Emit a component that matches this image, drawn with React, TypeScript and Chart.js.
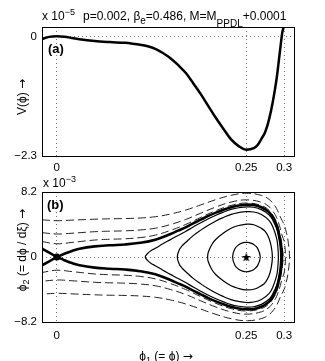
import React, { useEffect, useRef } from 'react';
import { Chart, registerables } from 'chart.js';

Chart.register(...registerables);

const FONT = "'Liberation Sans', Arial, Helvetica, sans-serif";

// ---------- axes ----------
const X_MIN = -0.0195;
const X_MAX = 0.313;
const phiTicks = [0, 0.25, 0.3];
const vTicks = [-2.3, 0]; // x 1e-5
const V_MIN = -2.3;
const V_MAX = 0.18;
const p2Ticks = [-8.2, 0, 8.2]; // x 1e-3
const P2_MIN = -8.2;
const P2_MAX = 8.2;

// ---------- (a) potential V(phi), units of 1e-5 ----------
const vPhi = [-0.0195, -0.01, 0, 0.01, 0.02, 0.03, 0.05, 0.07, 0.09, 0.1, 0.11, 0.12, 0.13, 0.14, 0.15, 0.16, 0.17, 0.18, 0.19, 0.2, 0.21, 0.22, 0.23, 0.24, 0.25, 0.26, 0.265, 0.27, 0.275, 0.28, 0.285, 0.29, 0.295, 0.2975, 0.3, 0.302];
const vVal = [-0.05, -0.01, 0, -0.008, -0.03, -0.055, -0.09, -0.11, -0.125, -0.14, -0.16, -0.19, -0.24, -0.32, -0.42, -0.55, -0.7, -0.9, -1.11, -1.34, -1.57, -1.78, -1.98, -2.11, -2.18, -2.15, -2.09, -1.97, -1.84, -1.6, -1.26, -0.82, -0.22, 0.07, 0.22, 0.46];

// ---------- (b) phase portrait, phi2 in units of 1e-3 (upper halves) ----------
// separatrix arm left of the saddle
const sepArmPhi = [-0.0195, -0.01, 0];
const sepArmP2 = [1.05, 0.56, 0];
// separatrix loop (saddle -> right turning point)
const sepPhi = [0, 0.01, 0.02, 0.03, 0.05, 0.07, 0.09, 0.11, 0.13, 0.15, 0.16, 0.17, 0.18, 0.19, 0.2, 0.21, 0.22, 0.23, 0.24, 0.25, 0.26, 0.27, 0.28, 0.285, 0.29, 0.295, 0.2965, 0.2972];
const sepP2 = [0, 0.4, 0.77, 1.05, 1.34, 1.48, 1.58, 1.79, 2.19, 2.9, 3.32, 3.74, 4.24, 4.71, 5.18, 5.6, 5.97, 6.29, 6.5, 6.6, 6.56, 6.28, 5.66, 5.02, 4.05, 2.1, 1.0, 0];
// closed orbits
const ringAPhi = [0.232, 0.235, 0.24, 0.245, 0.25, 0.255, 0.26, 0.265, 0.2685];
const ringAP2 = [0, 1.03, 1.54, 1.78, 1.86, 1.79, 1.57, 1.09, 0];
const ringBPhi = [0.199, 0.2, 0.205, 0.21, 0.22, 0.23, 0.24, 0.25, 0.26, 0.27, 0.275, 0.28, 0.283, 0.2845];
const ringBP2 = [0, 0.63, 1.64, 2.24, 3.03, 3.63, 3.97, 4.15, 4.07, 3.61, 3.22, 2.37, 1.3, 0];
const ringCPhi = [0.159, 0.162, 0.165, 0.17, 0.18, 0.19, 0.2, 0.21, 0.22, 0.23, 0.24, 0.25, 0.26, 0.27, 0.28, 0.285, 0.29, 0.2915, 0.2924];
const ringCP2 = [0, 0.97, 1.36, 1.83, 2.7, 3.39, 4.01, 4.55, 4.99, 5.38, 5.61, 5.74, 5.68, 5.36, 4.62, 3.81, 2.39, 1.46, 0];
const ringDPhi = [0.1167, 0.12, 0.125, 0.13, 0.14, 0.15, 0.16, 0.17, 0.18, 0.19, 0.2, 0.21, 0.22, 0.23, 0.24, 0.25, 0.26, 0.27, 0.28, 0.285, 0.29, 0.2925, 0.2945, 0.2953];
const ringDP2 = [0, 0.45, 0.84, 1.1, 1.67, 2.19, 2.72, 3.22, 3.79, 4.31, 4.82, 5.27, 5.66, 6.0, 6.21, 6.32, 6.28, 5.98, 5.33, 4.65, 3.58, 2.61, 1.41, 0];
// open (dashed) orbits
const open1Phi = [-0.0195, 0, 0.02, 0.05, 0.07, 0.09, 0.11, 0.13, 0.15, 0.17, 0.19, 0.21, 0.23, 0.25, 0.27, 0.28, 0.285, 0.29, 0.295, 0.2975, 0.2987];
const open1P2 = [1.95, 1.67, 1.84, 2.14, 2.24, 2.3, 2.45, 2.76, 3.35, 4.1, 5.0, 5.85, 6.51, 6.81, 6.5, 5.9, 5.29, 4.38, 2.68, 1.18, 0];
const open2Phi = [-0.0195, 0, 0.02, 0.05, 0.07, 0.09, 0.11, 0.13, 0.15, 0.17, 0.19, 0.21, 0.23, 0.25, 0.27, 0.28, 0.285, 0.29, 0.295, 0.2975, 0.3, 0.3017];
const open2P2 = [3.07, 2.9, 3.0, 3.19, 3.26, 3.3, 3.41, 3.63, 4.1, 4.73, 5.53, 6.31, 6.93, 7.21, 6.91, 6.36, 5.8, 4.98, 3.58, 2.65, 2.0, 0];
const open3Phi = [-0.0195, 0, 0.02, 0.05, 0.07, 0.09, 0.11, 0.13, 0.15, 0.17, 0.19, 0.21, 0.23, 0.25, 0.27, 0.28, 0.285, 0.29, 0.295, 0.3, 0.302, 0.305, 0.307];
const open3P2 = [4.69, 4.58, 4.65, 4.77, 4.82, 4.85, 4.92, 5.08, 5.42, 5.92, 6.57, 7.24, 7.78, 8.04, 7.77, 7.28, 6.8, 6.12, 5.04, 4.07, 3.44, 2.14, 0];
// markers
const saddle = { x: 0, y: 0 };
const centre = { x: 0.25, y: 0 };

type P = { x: number; y: number };
const pts = (xs: number[], ys: number[]): P[] => xs.map((x, i) => ({ x, y: ys[i] }));
const mirrored = (xs: number[], ys: number[]): P[] => xs.map((x, i) => ({ x, y: -ys[i] }));
// upper half then lower half back (C-shape, symmetric about phi2 = 0)
const cShape = (xs: number[], ys: number[]): P[] => [...pts(xs, ys), ...mirrored(xs, ys).slice(0, -1).reverse()];
// closed ring, starting the path at index s of the upper half
const ring = (xs: number[], ys: number[], s: number): P[] => {
  const c = cShape(xs, ys).slice(0, -1);
  return [...c.slice(s), ...c.slice(0, s + 1)];
};

const fmt = (v: number) => (v === 0 ? '0' : String(v).replace('-', '\u2212'));

function starCanvas(size: number) {
  const c = document.createElement('canvas');
  c.width = size;
  c.height = size;
  const g = c.getContext('2d')!;
  const R = size / 2;
  const r = R * 0.4;
  g.beginPath();
  for (let k = 0; k < 10; k++) {
    const a = -Math.PI / 2 + (k * Math.PI) / 5;
    const rr = k % 2 === 0 ? R : r;
    const px = R + rr * Math.cos(a);
    const py = R + 0.5 + rr * Math.sin(a);
    if (k === 0) g.moveTo(px, py);
    else g.lineTo(px, py);
  }
  g.closePath();
  g.fillStyle = '#000';
  g.fill();
  return c;
}

const boxPlugin = {
  id: 'box',
  afterDraw(chart: any) {
    const { ctx, chartArea: a } = chart;
    ctx.save();
    ctx.strokeStyle = '#000';
    ctx.lineWidth = 1;
    ctx.strokeRect(Math.round(a.left) + 0.5, Math.round(a.top) + 0.5, Math.round(a.right - a.left), Math.round(a.bottom - a.top));
    ctx.restore();
  },
};

function scales(yMin: number, yMax: number, yTicks: number[], xHeight: number, xPad: number) {
  return {
    x: {
      type: 'linear',
      min: X_MIN,
      max: X_MAX,
      afterBuildTicks: (s: any) => {
        s.ticks = phiTicks.map((v) => ({ value: v }));
      },
      afterFit: (s: any) => {
        s.height = xHeight;
      },
      ticks: { callback: (v: any) => fmt(v), padding: xPad, color: '#000', font: { family: FONT, size: 11.5 }, maxRotation: 0, autoSkip: false },
      grid: { color: 'rgba(0,0,0,0.55)', lineWidth: 1, drawTicks: false },
      border: { display: false, dash: [1, 3] },
    },
    y: {
      type: 'linear',
      min: yMin,
      max: yMax,
      afterBuildTicks: (s: any) => {
        s.ticks = yTicks.map((v) => ({ value: v }));
      },
      afterFit: (s: any) => {
        s.width = 42;
      },
      ticks: { callback: (v: any) => fmt(v), padding: 5, color: '#000', font: { family: FONT, size: 11.5 }, autoSkip: false },
      grid: { color: 'rgba(0,0,0,0.55)', lineWidth: 1, drawTicks: false },
      border: { display: false, dash: [1, 3] },
    },
  };
}

function baseOptions(padTop: number, sc: any) {
  return {
    responsive: false,
    maintainAspectRatio: false,
    animation: false,
    devicePixelRatio: 1,
    events: [],
    layout: { padding: { left: 0, right: 31, top: padTop, bottom: 0 } },
    plugins: { legend: { display: false }, tooltip: { enabled: false }, title: { display: false } },
    elements: { point: { radius: 0 } },
    scales: sc,
  };
}

const line = (data: P[], width: number, extra: any = {}) => ({
  data,
  showLine: true,
  borderColor: '#000',
  backgroundColor: '#000',
  borderWidth: width,
  pointRadius: 0,
  fill: false,
  tension: 0.4,
  ...extra,
});

export default function App() {
  const topRef = useRef<HTMLCanvasElement>(null);
  const botRef = useRef<HTMLCanvasElement>(null);

  useEffect(() => {
    const top = new Chart(topRef.current!, {
      type: 'scatter',
      data: {
        datasets: [line(pts(vPhi, vVal), 2.5, { cubicInterpolationMode: 'monotone' })],
      },
      options: baseOptions(27, scales(V_MIN, V_MAX, vTicks, 19, 5)) as any,
      plugins: [boxPlugin],
    } as any);

    const dash = { borderDash: [8, 4], borderColor: '#222' };
    const bot = new Chart(botRef.current!, {
      type: 'scatter',
      data: {
        datasets: [
          { data: [saddle], showLine: false, pointRadius: 3.5, pointBackgroundColor: '#000', pointBorderColor: '#000', pointBorderWidth: 0 },
          { data: [centre], showLine: false, pointRadius: 5, pointStyle: starCanvas(10) },
          line(cShape(sepPhi, sepP2), 2.6),
          line(pts(sepArmPhi, sepArmP2), 2.6, { tension: 0 }),
          line(mirrored(sepArmPhi, sepArmP2), 2.6, { tension: 0 }),
          line(ring(ringAPhi, ringAP2, 4), 1.2),
          line(ring(ringBPhi, ringBP2, 7), 1.2),
          line(ring(ringCPhi, ringCP2, 11), 1.2),
          line(ring(ringDPhi, ringDP2, 15), 1.2),
          line(cShape(open1Phi, open1P2), 1, dash),
          line(cShape(open2Phi, open2P2), 1, dash),
          line(cShape(open3Phi, open3P2), 1, dash),
        ],
      },
      options: baseOptions(17, scales(P2_MIN, P2_MAX, p2Ticks, 39, 7)) as any,
      plugins: [boxPlugin],
    } as any);

    return () => {
      top.destroy();
      bot.destroy();
    };
  }, []);

  const txt: React.CSSProperties = { position: 'absolute', fontFamily: FONT, fontSize: 12, lineHeight: '12px', whiteSpace: 'nowrap', color: '#000' };
  const sup: React.CSSProperties = { fontSize: 9, position: 'relative', top: -5 };
  const arrow: React.CSSProperties = { fontFamily: "'DejaVu Sans', sans-serif", fontSize: 12 };
  const rot = (cx: number, cy: number): React.CSSProperties => ({
    ...txt,
    left: cx,
    top: cy,
    transform: 'translate(-50%, -50%) rotate(-90deg)',
  });

  return (
    <div style={{ position: 'absolute', left: 0, top: 0, width: 325, height: 361, background: '#fff', overflow: 'hidden' }}>
      <canvas ref={topRef} width={325} height={175} style={{ position: 'absolute', left: 0, top: 0, width: 325, height: 175 }} />
      <canvas ref={botRef} width={325} height={186} style={{ position: 'absolute', left: 0, top: 175, width: 325, height: 186 }} />

      <div style={{ ...txt, left: 42, top: 10 }}>
        x 10<span style={sup}>{'\u22125'}</span>
      </div>
      <div style={{ ...txt, left: 83, top: 10 }}>
        p=0.002, {'\u03B2'}
        <span style={{ fontSize: 10, position: 'relative', top: 4 }}>e</span>
        =0.486, M=M
        <span style={{ fontSize: 10, position: 'relative', top: 7 }}>PPDL</span>
        +0.0001
      </div>

      <div style={{ ...txt, left: 43, top: 177 }}>
        x 10<span style={sup}>{'\u22123'}</span>
      </div>

      <div style={{ ...txt, left: 48, top: 42, fontSize: 13, lineHeight: '13px', fontWeight: 'bold' }}>(a)</div>
      <div style={{ ...txt, left: 47, top: 198, fontSize: 13, lineHeight: '13px', fontWeight: 'bold' }}>(b)</div>

      <div style={rot(22, 97)}>
        V({'\u03D5'}) <span style={arrow}>{'\u2192'}</span>
      </div>
      <div style={rot(22, 250)}>
        {'\u03D5'}
        <span style={{ fontSize: 9, position: 'relative', top: 3 }}>2</span> (= d{'\u03D5'} / d{'\u03BE'}) <span style={arrow}>{'\u2192'}</span>
      </div>

      <div style={{ ...txt, left: 166, top: 350, transform: 'translateX(-50%)' }}>
        {'\u03D5'}
        <span style={{ fontSize: 9, position: 'relative', top: 3 }}>1</span> (= {'\u03D5'}) <span style={arrow}>{'\u2192'}</span>
      </div>
    </div>
  );
}
